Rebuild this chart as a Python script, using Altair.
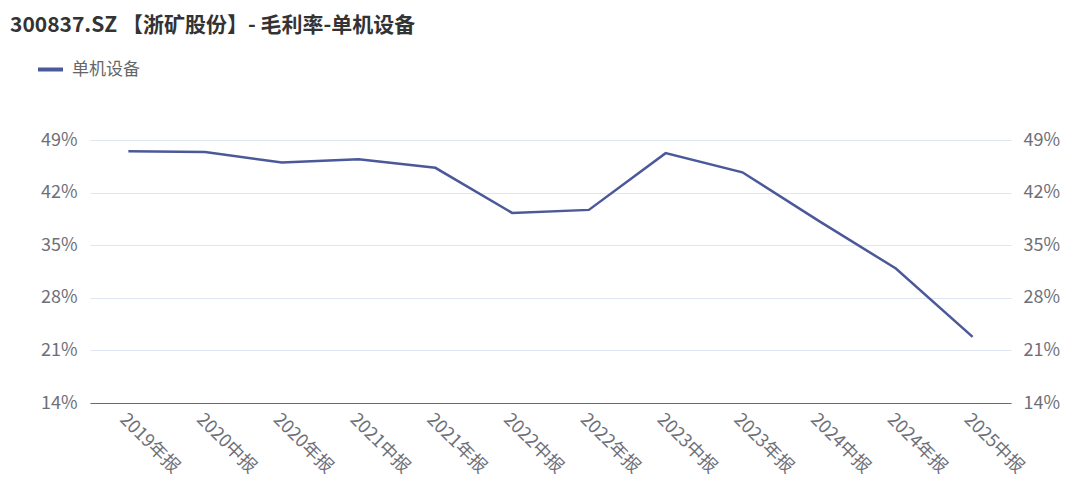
import altair as alt
import pandas as pd

categories = ["2019年报", "2020中报", "2020年报", "2021中报", "2021年报", "2022中报",
              "2022年报", "2023中报", "2023年报", "2024中报", "2024年报", "2025中报"]
values = [47.5, 47.4, 46.0, 46.45, 45.3, 39.3, 39.7, 47.25, 44.7, 38.2, 31.9, 22.8]
series_name = "单机设备"
y_ticks = [14, 21, 28, 35, 42, 49]

df = pd.DataFrame({"period": categories, "value": values, "series": series_name})

LINE = "#4b5899"
FONT = "Noto Sans CJK SC"
LABEL = "#6e7079"

x_enc = alt.X("period:N", sort=categories, title=None,
              scale=alt.Scale(type="point", padding=0.5),
              axis=alt.Axis(labelAngle=45, labelAlign="left", labelBaseline="top",
                            labelPadding=7, ticks=False, domainColor="#5d6a96",
                            domainWidth=1.2, labelColor=LABEL, labelFontSize=18,
                            labelFont=FONT, maxExtent=72, minExtent=72))

yscale = alt.Scale(domain=[14, 49], nice=False, zero=False)

left = alt.Chart(df).mark_line(strokeWidth=2.5).encode(
    x=x_enc,
    y=alt.Y("value:Q", scale=yscale, title=None,
            axis=alt.Axis(values=y_ticks, labelExpr="datum.value + '%'", orient="left",
                          domain=False, ticks=False, labelPadding=13,
                          gridColor="#e0e6f1", gridWidth=1, labelColor=LABEL,
                          labelFontSize=18, labelFont=FONT, minExtent=82, maxExtent=82)),
    color=alt.Color("series:N", scale=alt.Scale(domain=[series_name], range=[LINE]),
                    legend=alt.Legend(title=None, orient="none", legendX=-54, legendY=-85,
                                      symbolType="stroke", symbolSize=625,
                                      symbolStrokeWidth=4, labelFontSize=17,
                                      labelFont=FONT, labelColor="#666666",
                                      labelOffset=7, padding=0)),
)

right = alt.Chart(df).mark_line(opacity=0).encode(
    x=x_enc,
    y=alt.Y("value:Q", scale=yscale, title=None,
            axis=alt.Axis(values=y_ticks, labelExpr="datum.value + '%'", orient="right",
                          domain=False, ticks=False, grid=False, labelPadding=12,
                          labelColor=LABEL, labelFontSize=18, labelFont=FONT)),
)

chart = alt.layer(left, right).resolve_scale(y="independent").properties(
    width=921, height=263,
    padding={"left": 0, "top": 7, "right": 5, "bottom": 0},
    title=alt.TitleParams(text="300837.SZ 【浙矿股份】- 毛利率-单机设备", anchor="start",
                          frame="group", dx=-80, offset=19, fontSize=21,
                          fontWeight="bold", color="#333333", font=FONT),
).configure_view(stroke=None)

chart.save("out.html", embed_options={"renderer": "svg", "actions": False})
